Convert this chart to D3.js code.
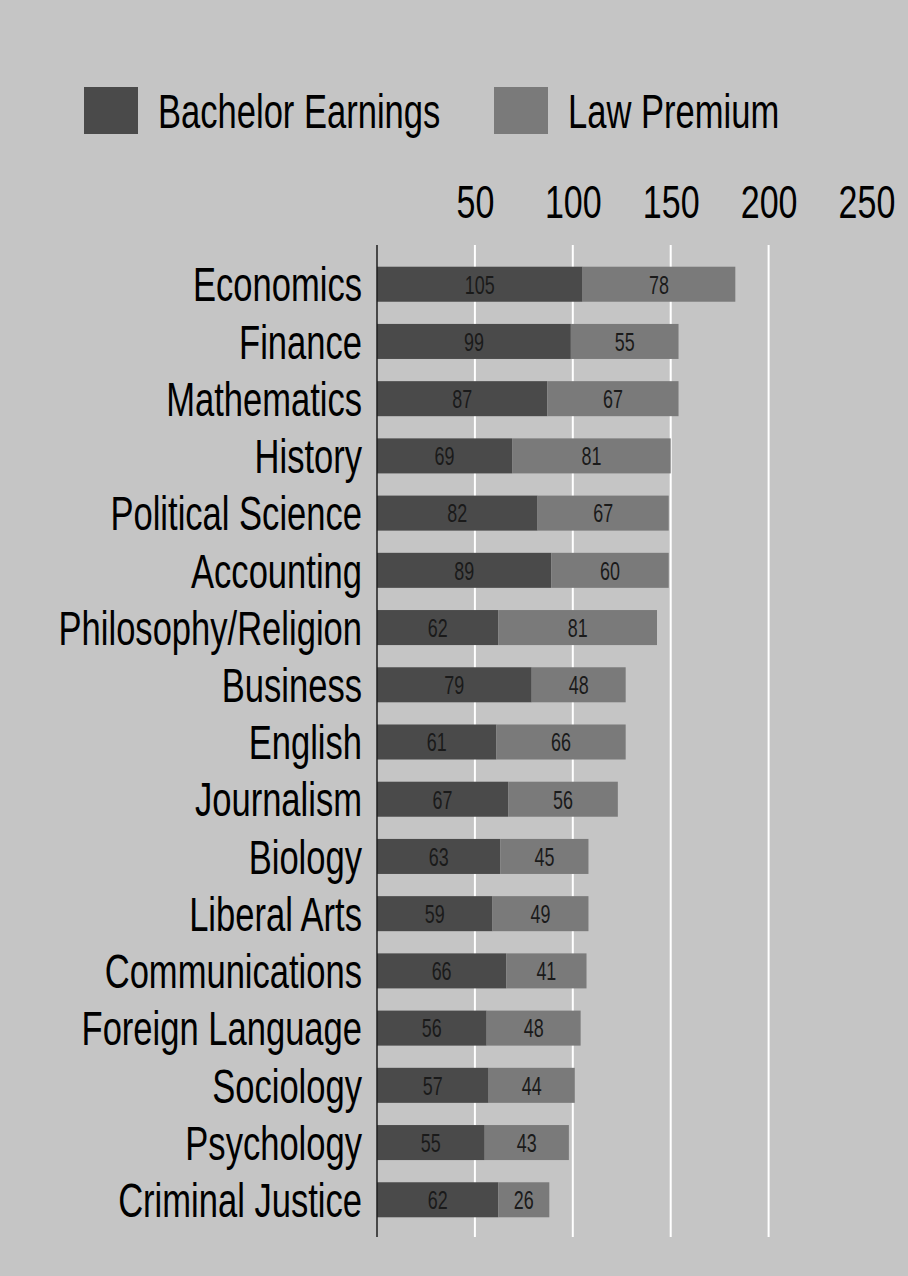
<!DOCTYPE html>
<html>
<head>
<meta charset="utf-8">
<script src="https://cdn.jsdelivr.net/npm/d3@7"></script>
<style>
  html, body { margin: 0; padding: 0; background: #c5c5c5; }
  svg { display: block; }
  text { font-family: "Liberation Sans", Arial, sans-serif; }
</style>
</head>
<body>
<svg id="chart" width="908" height="1276"></svg>
<script>
// Majors, earnings with a bachelor's degree and the added premium of a law degree
const categories = [
  "Economics", "Finance", "Mathematics", "History", "Political Science",
  "Accounting", "Philosophy/Religion", "Business", "English", "Journalism",
  "Biology", "Liberal Arts", "Communications", "Foreign Language",
  "Sociology", "Psychology", "Criminal Justice"
];
const bachelorEarnings = [105, 99, 87, 69, 82, 89, 62, 79, 61, 67, 63, 59, 66, 56, 57, 55, 62];
const lawPremium       = [78, 55, 67, 81, 67, 60, 81, 48, 66, 56, 45, 49, 41, 48, 44, 43, 26];
const seriesNames  = ["Bachelor Earnings", "Law Premium"];
const seriesColors = ["#4a4a4a", "#7a7a7a"];
const tickValues   = [50, 100, 150, 200, 250];

const svg = d3.select("#chart");
const W = 908, H = 1276;
const NARROW = 0.72;   // condensed lettering

svg.append("rect").attr("width", W).attr("height", H).attr("fill", "#c5c5c5");

const plotTop = 245, plotBottom = 1237;
const x = d3.scaleLinear().domain([0, 250]).range([377, 866.5]);
const y = d3.scaleBand().domain(categories)
  .range([plotTop + 1, plotBottom + 1])
  .paddingInner(0.388).paddingOuter(0.362);

// Gridlines (values inside the domain)
svg.append("g").selectAll("line")
  .data(tickValues.filter(t => t < x.domain()[1]))
  .join("line")
  .attr("x1", d => x(d)).attr("x2", d => x(d))
  .attr("y1", plotTop).attr("y2", plotBottom)
  .attr("stroke", "#ffffff").attr("stroke-width", 2);

// Tick labels above the plot
const axis = svg.append("g")
  .attr("transform", `translate(0,218)`)
  .call(d3.axisTop(x).tickValues(tickValues).tickSize(0).tickPadding(0).tickFormat(d3.format("d")));
axis.select(".domain").remove();
axis.selectAll("text")
  .attr("y", 0).attr("dy", null)
  .attr("font-size", 46).attr("fill", "#000")
  .attr("font-family", "Liberation Sans, Arial, sans-serif")
  .attr("transform", `scale(${NARROW + 0.02},1)`);

// Stacked bars
const stackData = categories.map((c, i) => ({ cat: c, vals: [bachelorEarnings[i], lawPremium[i]] }));
const bars = svg.append("g");
stackData.forEach(d => {
  let acc = 0;
  d.vals.forEach((v, s) => {
    const x0 = x(acc), x1 = x(acc + v);
    const yTop = y(d.cat), bh = y.bandwidth();
    bars.append("rect")
      .attr("x", x0).attr("y", yTop)
      .attr("width", x1 - x0).attr("height", bh)
      .attr("fill", seriesColors[s]);
    bars.append("text")
      .attr("transform", `translate(${(x0 + x1) / 2},${yTop + bh / 2 + 26 * 0.358}) scale(0.69,1)`)
      .attr("text-anchor", "middle")
      .attr("font-size", 26)
      .attr("fill", "#1a1a1a")
      .text(v);
    acc += v;
  });
});

// Axis line
svg.append("line")
  .attr("x1", x(0)).attr("x2", x(0))
  .attr("y1", plotTop).attr("y2", plotBottom)
  .attr("stroke", "#1e1e1e").attr("stroke-width", 1.5);

// Category labels
svg.append("g").selectAll("text")
  .data(categories)
  .join("text")
  .attr("transform", d => `translate(${x(0) - 15},${y(d) + y.bandwidth() / 2 + 48 * 0.358}) scale(${NARROW},1)`)
  .attr("text-anchor", "end")
  .attr("font-size", 48)
  .attr("fill", "#000")
  .text(d => d);

// Legend
const legendX = [84, 494];
const legend = svg.append("g");
seriesNames.forEach((name, i) => {
  legend.append("rect")
    .attr("x", legendX[i]).attr("y", 87)
    .attr("width", 54).attr("height", 47)
    .attr("fill", seriesColors[i]);
  legend.append("text")
    .attr("transform", `translate(${legendX[i] + 74},128) scale(${NARROW},1)`)
    .attr("font-size", 48)
    .attr("fill", "#000")
    .text(name);
});
</script>
</body>
</html>
